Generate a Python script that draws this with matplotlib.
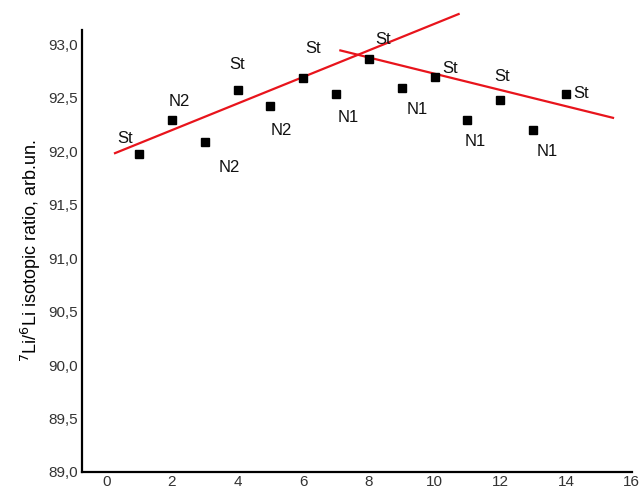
import matplotlib
matplotlib.use("Agg")
import matplotlib.pyplot as plt
from matplotlib.ticker import FuncFormatter

plt.rcParams['font.family'] = ['Liberation Sans', 'DejaVu Sans']

x = [1, 2, 3, 4, 5, 6, 7, 8, 9, 10, 11, 12, 13, 14]
y = [91.97, 92.29, 92.08, 92.57, 92.42, 92.68, 92.53, 92.86, 92.59, 92.69, 92.29, 92.48, 92.20, 92.53]
labels = ['St', 'N2', 'N2', 'St', 'N2', 'St', 'N1', 'St', 'N1', 'St', 'N1', 'St', 'N1', 'St']
label_offsets = [(-14, 16), (7, 18), (25, -25), (0, 26), (11, -24), (10, 30), (12, -23),
                 (14, 19), (15, -22), (15, 9), (8, -22), (2, 23), (14, -22), (15, 1)]

line1_x = [0.27, 10.73]
line1_y = [91.98, 93.28]
line2_x = [7.13, 15.43]
line2_y = [92.94, 92.31]

xticks = [0, 2, 4, 6, 8, 10, 12, 14, 16]
yticks = [89.0, 89.5, 90.0, 90.5, 91.0, 91.5, 92.0, 92.5, 93.0]

fig = plt.figure(figsize=(6.42, 4.91), dpi=100)
ax = fig.add_axes([0.128, 0.0387, 0.856, 0.900])

ax.plot(line1_x, line1_y, color='#e8141c', lw=1.6, zorder=2, clip_on=False)
ax.plot(line2_x, line2_y, color='#e8141c', lw=1.6, zorder=2, clip_on=False)
ax.plot(x, y, 's', color='black', markersize=5.5, zorder=3, clip_on=False)

for xi, yi, lab, off in zip(x, y, labels, label_offsets):
    ax.annotate(lab, (xi, yi), xytext=off, textcoords='offset pixels',
                ha='center', va='center', fontsize=12, color='#111111')

ax.set_xlim(-0.73, 16)
ax.set_ylim(89.0, 93.13)
ax.set_xticks(xticks)
ax.set_yticks(yticks)
ax.xaxis.set_major_formatter(FuncFormatter(lambda v, p: f"{v:g}"))
ax.yaxis.set_major_formatter(FuncFormatter(lambda v, p: f"{v:.1f}".replace('.', ',')))
ax.tick_params(length=0, labelsize=11, colors='#333333', pad=3)
ax.tick_params(axis='x', pad=2)
for s in ['top', 'right']:
    ax.spines[s].set_visible(False)
for s in ['left', 'bottom']:
    ax.spines[s].set_linewidth(1.6)
    ax.spines[s].set_color('black')

ax.set_ylabel(r'$^{7}$Li/$^{6}$Li isotopic ratio, arb.un.', fontsize=13, labelpad=4)

fig.savefig('out.png', dpi=100)
